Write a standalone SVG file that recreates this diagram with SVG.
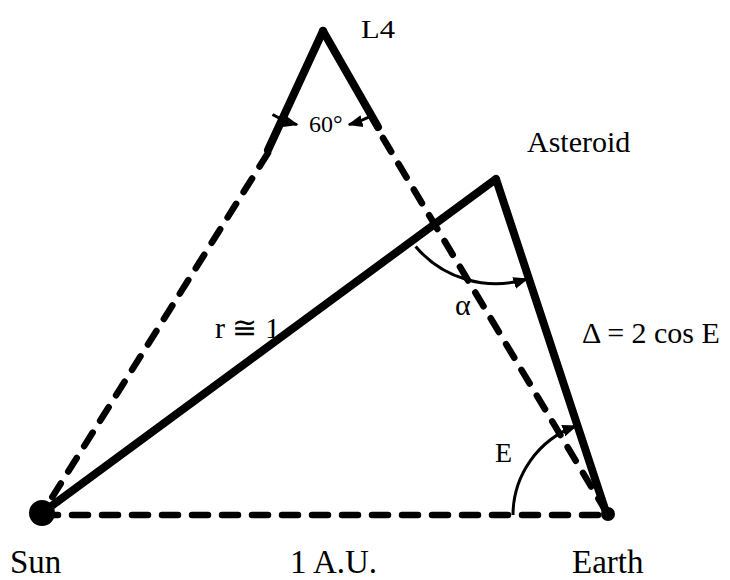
<svg xmlns="http://www.w3.org/2000/svg" width="730" height="580" viewBox="0 0 730 580">
<style>
text{font-family:"Liberation Serif","DejaVu Serif",serif;fill:#000}
.solid{stroke:#000;stroke-width:8;fill:none;stroke-linecap:round}
.dash{stroke:#000;stroke-width:6.5;fill:none;stroke-linecap:round;stroke-dasharray:16 14}
.arc{stroke:#000;stroke-width:3;fill:none}
</style>
<defs>
<marker id="ah" viewBox="0 0 10 10" refX="9" refY="5" markerWidth="5" markerHeight="5" orient="auto" markerUnits="strokeWidth">
<path d="M0,1 L10,5 L0,9 Z" fill="#000"/>
</marker>
</defs>
<rect width="730" height="580" fill="#fff"/>
<g id="connectors">
<line class="dash" x1="42" y1="515" x2="608" y2="515"/>
<line class="dash" x1="268" y1="153" x2="46" y2="507"/>
<line class="solid" x1="323" y1="31" x2="268" y2="150"/>
<line class="dash" x1="383" y1="138" x2="604" y2="508"/>
<line class="solid" x1="323" y1="31" x2="378" y2="127"/>
<line class="solid" x1="42" y1="513" x2="496" y2="179"/>
<line class="solid" x1="496" y1="179" x2="606" y2="512"/>
<path class="arc" d="M272.5,114.5 A100,100 0 0 0 297,124.6" marker-end="url(#ah)"/>
<path class="arc" d="M373.5,114.5 A100,100 0 0 1 349,124.6" marker-end="url(#ah)"/>
<path class="arc" d="M415.6,246.5 A105,105 0 0 0 527,279" marker-end="url(#ah)"/>
<path class="arc" d="M513,515 A95,95 0 0 1 576,426" marker-end="url(#ah)"/>
</g>
<g id="sun">
<circle cx="42" cy="513" r="13" fill="#000"/>
<text x="10" y="573" font-size="33">Sun</text>
</g>
<g id="earth">
<circle cx="608" cy="514" r="7" fill="#000"/>
<text x="572" y="573" font-size="33">Earth</text>
</g>
<g id="l4">
<text x="361" y="38" font-size="25" textLength="34" lengthAdjust="spacingAndGlyphs">L4</text>
<text x="309" y="132" font-size="24">60°</text>
</g>
<g id="asteroid">
<text x="527" y="152" font-size="30">Asteroid</text>
</g>
<g id="labels">
<text x="215" y="338" font-size="30">r ≅ 1</text>
<text x="455" y="315" font-size="30">α</text>
<text x="582" y="343" font-size="30">Δ = 2 cos E</text>
<text x="495" y="462" font-size="28">E</text>
<text x="290" y="573" font-size="33">1 A.U.</text>
</g>
</svg>
